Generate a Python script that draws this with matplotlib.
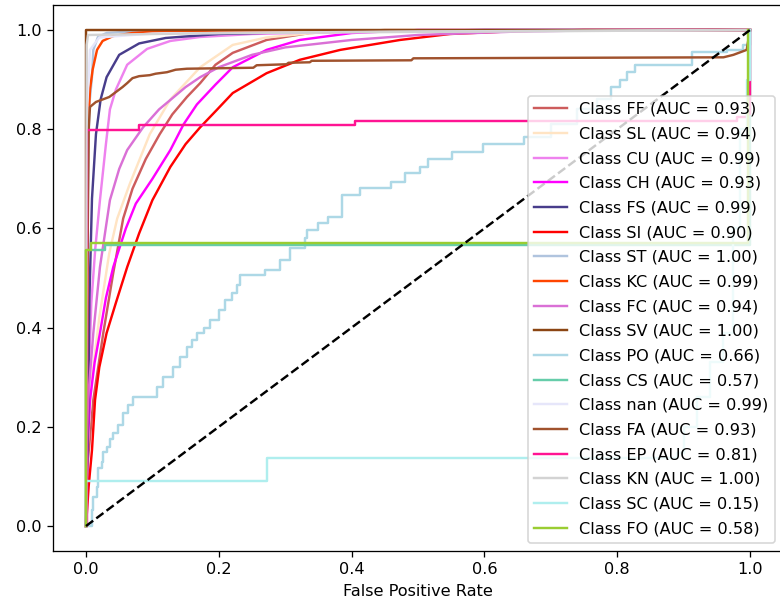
import matplotlib
matplotlib.use("Agg")
import matplotlib.pyplot as plt

# the reference looks like a default-styled figure rendered at ~116 dpi
DPI = 116

# ROC points (fpr, tpr) for each class
fpr_ff = [0, 0.002, 0.011, 0.026, 0.041, 0.056, 0.07, 0.09, 0.111, 0.13, 0.152, 0.172, 0.195, 0.221, 0.272, 0.337, 0.45, 1]
tpr_ff = [0, 0.12, 0.254, 0.389, 0.51, 0.62, 0.68, 0.74, 0.79, 0.83, 0.865, 0.893, 0.93, 0.954, 0.98, 0.994, 1.0, 1]

fpr_sl = [0, 0.002, 0.009, 0.02, 0.035, 0.047, 0.066, 0.096, 0.127, 0.172, 0.221, 0.272, 0.35, 0.45, 1]
tpr_sl = [0, 0.15, 0.3, 0.42, 0.55, 0.62, 0.69, 0.79, 0.86, 0.925, 0.97, 0.985, 0.995, 1.0, 1]

fpr_cu = [0, 0.003, 0.008, 0.014, 0.021, 0.03, 0.036, 0.045, 0.062, 0.092, 0.127, 0.172, 0.25, 0.4, 0.6, 1]
tpr_cu = [0, 0.25, 0.45, 0.56, 0.657, 0.77, 0.84, 0.88, 0.93, 0.962, 0.978, 0.986, 0.992, 0.997, 1.0, 1]

fpr_ch = [0, 0.002, 0.006, 0.013, 0.021, 0.03, 0.041, 0.06, 0.075, 0.1, 0.127, 0.147, 0.167, 0.195, 0.221, 0.272, 0.322, 0.4, 0.5, 1]
tpr_ch = [0, 0.15, 0.254, 0.33, 0.389, 0.46, 0.522, 0.6, 0.65, 0.7, 0.758, 0.81, 0.85, 0.89, 0.925, 0.96, 0.98, 0.994, 1.0, 1]

fpr_fs = [0, 0.003, 0.005, 0.009, 0.015, 0.022, 0.031, 0.05, 0.08, 0.12, 0.2, 0.35, 0.6, 1]
tpr_fs = [0, 0.2, 0.45, 0.66, 0.79, 0.86, 0.905, 0.95, 0.973, 0.984, 0.992, 0.997, 1.0, 1]

fpr_si = [0, 0.004, 0.009, 0.0136, 0.02, 0.031, 0.045, 0.062, 0.08, 0.1, 0.127, 0.15, 0.172, 0.197, 0.221, 0.272, 0.322, 0.383, 0.473, 0.548, 0.65, 0.75, 1]
tpr_si = [0, 0.08, 0.153, 0.254, 0.32, 0.389, 0.45, 0.522, 0.59, 0.657, 0.724, 0.77, 0.804, 0.839, 0.873, 0.913, 0.94, 0.96, 0.98, 0.992, 0.998, 1.0, 1]

fpr_st = [0, 0.002, 0.005, 0.009, 0.011, 0.018, 0.031, 0.08, 1]
tpr_st = [0, 0.6, 0.85, 0.905, 0.96, 0.986, 0.994, 0.998, 1]

fpr_kc = [0, 0.002, 0.003, 0.006, 0.01, 0.0166, 0.025, 0.041, 0.07, 0.12, 1]
tpr_kc = [0, 0.5, 0.8, 0.88, 0.92, 0.96, 0.978, 0.988, 0.994, 0.998, 1]

fpr_fc = [0, 0.001, 0.003, 0.011, 0.021, 0.036, 0.05, 0.062, 0.086, 0.11, 0.127, 0.15, 0.172, 0.2, 0.25, 0.3, 0.4, 0.5, 0.65, 0.8, 1]
tpr_fc = [0, 0.15, 0.254, 0.389, 0.522, 0.657, 0.72, 0.758, 0.804, 0.84, 0.859, 0.885, 0.905, 0.925, 0.95, 0.965, 0.98, 0.99, 0.997, 1.0, 1]

fpr_sv = [0, 0, 1]
tpr_sv = [0, 1.0, 1]

# stepped curves (x where the curve rises, tpr after the rise)
fpr_po = [0, 0.009, 0.011, 0.0166, 0.018, 0.024, 0.026, 0.031, 0.036, 0.041, 0.048, 0.056, 0.063, 0.071, 0.107, 0.116,
          0.131, 0.142, 0.152, 0.16, 0.167, 0.177, 0.187, 0.2, 0.209, 0.22, 0.227, 0.232, 0.27, 0.292, 0.307, 0.33,
          0.333, 0.35, 0.364, 0.385, 0.413, 0.46, 0.48, 0.503, 0.515, 0.551, 0.598, 0.66, 0.7, 0.74, 0.77, 0.79,
          0.804, 0.815, 0.827, 0.913, 0.965, 0.99, 1.0]
tpr_po = [0, 0.032, 0.058, 0.079, 0.117, 0.129, 0.149, 0.159, 0.175, 0.187, 0.204, 0.228, 0.244, 0.26, 0.28, 0.3,
          0.32, 0.34, 0.36, 0.375, 0.389, 0.4, 0.415, 0.435, 0.456, 0.47, 0.486, 0.506, 0.516, 0.536, 0.56, 0.58,
          0.597, 0.611, 0.623, 0.667, 0.681, 0.694, 0.711, 0.724, 0.739, 0.754, 0.77, 0.785, 0.81, 0.84, 0.86, 0.885,
          0.9, 0.915, 0.929, 0.955, 0.96, 0.97, 1.0]

fpr_cs = [0, 0, 0.029, 1.0]
tpr_cs = [0, 0.556, 0.567, 1.0]

fpr_nan = [0, 0.002, 0.006, 0.02, 0.1, 0.5, 1]
tpr_nan = [0, 0.85, 0.96, 0.985, 0.993, 0.997, 1]

fpr_fa = [0, 0.002, 0.004, 0.006, 0.015, 0.025, 0.035, 0.045, 0.055, 0.062, 0.07, 0.08, 0.096, 0.105, 0.122, 0.135,
          0.152, 0.252, 0.257, 0.302, 0.305, 0.337, 0.34, 0.49, 0.493, 0.96, 0.975, 0.985, 0.995, 1]
tpr_fa = [0, 0.5, 0.8, 0.845, 0.855, 0.86, 0.865, 0.875, 0.885, 0.893, 0.903, 0.907, 0.909, 0.912, 0.915, 0.92,
          0.922, 0.924, 0.929, 0.931, 0.934, 0.935, 0.938, 0.939, 0.943, 0.945, 0.95, 0.955, 0.96, 1]

fpr_ep = [0, 0.002, 0.08, 0.405, 0.98, 0.995, 1.0]
tpr_ep = [0, 0.798, 0.808, 0.817, 0.825, 0.83, 1.0]

fpr_kn = [0, 0.001, 0.003, 0.2, 1]
tpr_kn = [0, 0.97, 0.99, 0.994, 1]

fpr_sc = [0, 0, 0.272, 0.89, 0.9, 0.92, 0.94, 0.96, 0.974, 0.974, 0.985, 0.995, 1.0]
tpr_sc = [0, 0.091, 0.137, 0.147, 0.2, 0.26, 0.33, 0.39, 0.415, 0.6, 0.8, 0.9, 1.0]

fpr_fo = [0, 0, 0.008, 0.997]
tpr_fo = [0, 0.556, 0.571, 1.0]

classes = ['FF', 'SL', 'CU', 'CH', 'FS', 'SI', 'ST', 'KC', 'FC', 'SV', 'PO', 'CS', 'nan', 'FA', 'EP', 'KN', 'SC', 'FO']
aucs = [0.93, 0.94, 0.99, 0.93, 0.99, 0.90, 1.00, 0.99, 0.94, 1.00, 0.66, 0.57, 0.99, 0.93, 0.81, 1.00, 0.15, 0.58]
colors = ['indianred', 'bisque', 'violet', 'magenta', 'darkslateblue', 'red', 'lightsteelblue', 'orangered',
          'orchid', 'saddlebrown', 'lightblue', 'mediumaquamarine', 'lavender', 'sienna', 'deeppink',
          'lightgray', 'paleturquoise', 'yellowgreen']
fprs = [fpr_ff, fpr_sl, fpr_cu, fpr_ch, fpr_fs, fpr_si, fpr_st, fpr_kc, fpr_fc, fpr_sv,
        fpr_po, fpr_cs, fpr_nan, fpr_fa, fpr_ep, fpr_kn, fpr_sc, fpr_fo]
tprs = [tpr_ff, tpr_sl, tpr_cu, tpr_ch, tpr_fs, tpr_si, tpr_st, tpr_kc, tpr_fc, tpr_sv,
        tpr_po, tpr_cs, tpr_nan, tpr_fa, tpr_ep, tpr_kn, tpr_sc, tpr_fo]
stepped = {'PO', 'CS', 'EP', 'SC', 'FO'}

fig = plt.figure(figsize=(780 / DPI, 602 / DPI), dpi=DPI)
# the original image is cropped: the right spine falls just outside
ax = fig.add_axes([0.0677, 0.085, 0.9364, 0.9063])

for name, auc, c, x, y in zip(classes, aucs, colors, fprs, tprs):
    ds = 'steps-post' if name in stepped else 'default'
    ax.plot(x, y, color=c, lw=1.5, drawstyle=ds, label=f'Class {name} (AUC = {auc:.2f})')

ax.plot([0, 1], [0, 1], 'k--', lw=1.5)
ax.set_xlabel('False Positive Rate')
ax.legend(loc='lower right', labelspacing=0.6)

fig.savefig('out.png', dpi=DPI)
